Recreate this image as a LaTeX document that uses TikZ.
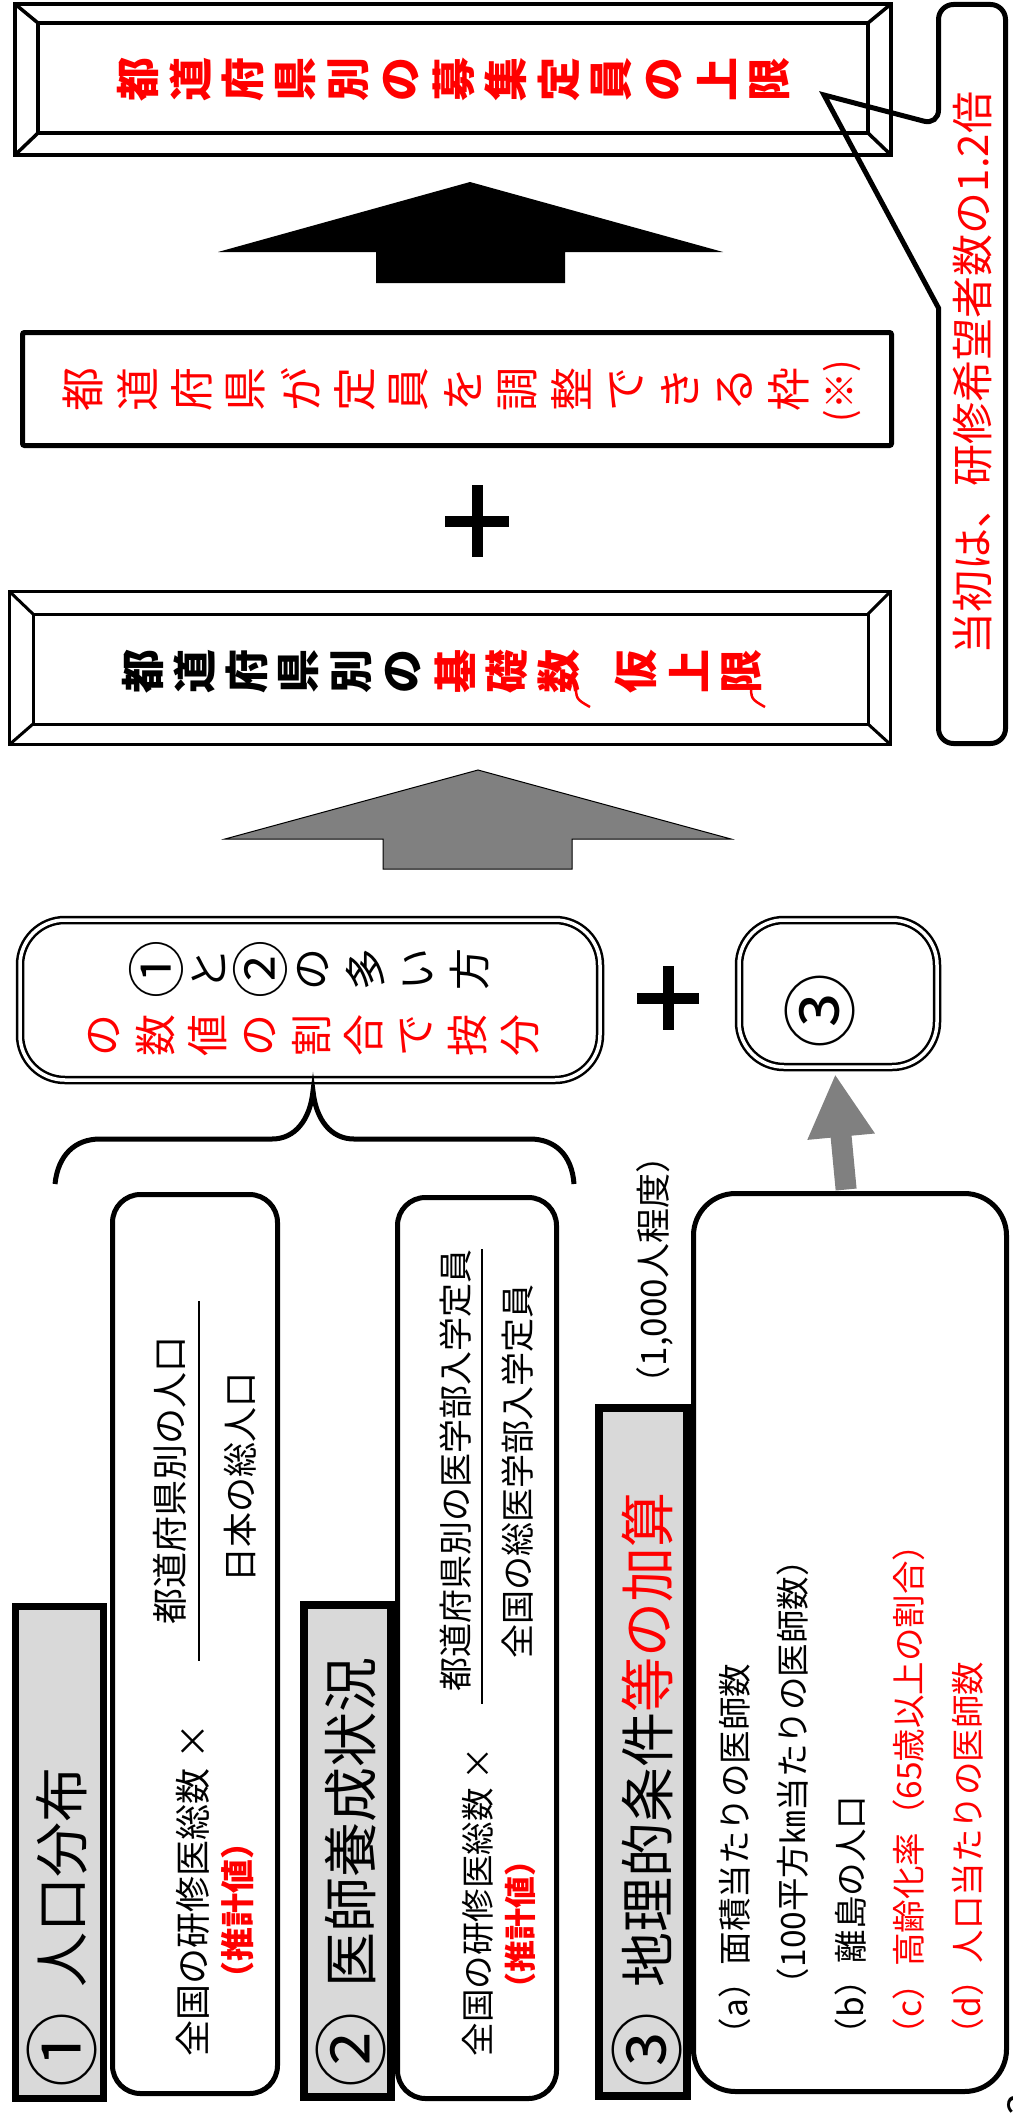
\documentclass[tikz,border=0pt]{standalone}
\usepackage{fontspec}
\setmainfont{Noto Sans CJK JP}
\usetikzlibrary{arrows.meta}

\definecolor{hdrgray}{HTML}{D9D9D9}
\definecolor{arrgray}{HTML}{808080}

\begin{document}
\begin{tikzpicture}[x=1pt, y=-1pt,
  every node/.style={inner sep=0pt, outer sep=0pt},
  ft/.style={font=\fontsize{#1}{#1}\selectfont},
  fb/.style={font=\fontsize{#1}{#1}\selectfont\bfseries},
  tate/.style={rotate=90, ft=44},
  yoko/.style={rotate=90},
  bevel/.style={draw, line width=3.5pt},
  frame/.style={draw, line width=5pt, rounded corners=2pt},
  hdr/.style={draw, line width=7.5pt, fill=hdrgray},
  card/.style={draw, line width=5pt, rounded corners=28pt},
  dbl/.style={draw, double, double distance=3.5pt, line width=2.5pt, rounded corners=45pt},
  plus/.style={line width=11pt},
  garrow/.style={line width=21pt, arrgray, -{Triangle[length=63pt, width=63pt]}}]

  \useasboundingbox (0,0) rectangle (1012,2114);

  % ===== Upper limit (bevel frame) =====
  \node[bevel, minimum width=876pt, minimum height=151pt] (cap) at (453,79.5) {};
  \node[bevel, minimum width=830pt, minimum height=110pt] (capi) at (453,78) {};
  \foreach \a in {north west,north east,south west,south east}
    \draw[bevel] (cap.\a) -- (capi.\a);
  \foreach \c [count=\i from 0] in {都,道,府,県,別,の,募,集,定,員,の,上,限}
    \node[tate, red, fb=44] (cap\i) at ({138+52.6*\i},80) {\c};

  % ===== Callout =====
  \node[yoko, red, ft=42] (note) at (973,373) {当初は、研修希望者数の1.2倍};
  \draw[line width=5pt, rounded corners=15pt] (938.5,308) -- (938.5,743.5) -- (1005.5,743.5)
    -- (1005.5,4.5) -- (938.5,4.5) -- (938.5,125) [sharp corners] -- (824,95) -- cycle;

  % ===== Black block arrow =====
  \fill (470,182) -- (723,252) -- (565,252) -- (565,283) -- (376,283) -- (376,252) -- (218,252) -- cycle;

  % ===== Adjustable frame =====
  \node[frame, minimum width=869pt, minimum height=113pt] (adj) at (457,389) {};
  \foreach \c [count=\i from 0] in {都,道,府,県,が,定,員,を,調,整,で,き,る,枠}
    \node[tate, red] (adj\i) at ({83+54.3*\i},389) {\c};
  \node[yoko, red, ft=37] (adjk) at (842,391) {(※)};

  % Plus signs
  \draw[plus] (477,485) -- (477,557) (445,521) -- (509,521);
  \draw[plus] (668,966) -- (668,1030) (637,998) -- (699,998);

  % ===== Base number (bevel frame) =====
  \node[bevel, line width=3pt, minimum width=881pt, minimum height=153pt] (base) at (450,668) {};
  \node[bevel, line width=3pt, minimum width=835pt, minimum height=110pt] (basei) at (450.5,669) {};
  \foreach \a in {north west,north east,south west,south east}
    \draw[bevel, line width=3pt] (base.\a) -- (basei.\a);
  \foreach \c [count=\i from 0] in {都,道,府,県,別,の}
    \node[tate, fb=44] (base\i) at ({143+52*\i},671) {\c};
  \foreach \c [count=\i from 6] in {基,礎,数}
    \node[tate, red, fb=44] (base\i) at ({143+52*\i},671) {\c};
  \foreach \c/\x [count=\i from 9] in {仮/636,上/689,限/742}
    \node[tate, red, fb=44] (base\i) at (\x,671) {\c};
  \draw[red, line width=2.5pt] (576,684) .. controls (576,699) .. (590,707);
  \draw[red, line width=2.5pt] (751,684) .. controls (751,699) .. (765,707);

  % ===== Gray block arrow =====
  \filldraw[fill=arrgray, line width=1pt] (478,770) -- (731,839) -- (572,839) -- (572,869)
    -- (383,869) -- (383,839) -- (225,839) -- cycle;

  % ===== Ratio box and (3) box =====
  \node[dbl, minimum width=580pt, minimum height=160pt] (ratio) at (310,1000) {};
  % circled digits are set larger
  \foreach \c/\s [count=\i from 0] in {①/58,と/42,②/58,の/42,多/42,い/42,方/42}
    \node[tate, ft=\s] (ra\i) at ({156+52.3*\i},969) {\c};
  \foreach \c [count=\i from 0] in {の,数,値,の,割,合,で,按,分}
    \node[tate, red, ft=42] (rb\i) at ({104+52*\i},1035) {\c};

  \node[dbl, minimum width=198pt, minimum height=147pt] (three) at (838,993.5) {};
  \node[tate, ft=75] (threet) at (820,1011) {③};

  % Brace over (1) and (2)
  \draw[line width=5pt] (55,1184) .. controls (58,1155) and (75,1139) .. (100,1139) -- (272,1139)
    .. controls (295,1139) and (310,1120) .. (313,1091)
    .. controls (316,1120) and (331,1139) .. (354,1139) -- (530,1139)
    .. controls (555,1139) and (572,1155) .. (574,1184);

  % ===== Section 1 =====
  \node[card, minimum width=165pt, minimum height=899pt] (pop) at (195,1644) {};
  \node[hdr, minimum width=88pt, minimum height=492pt] (poph) at (59.5,1852.5) {};
  \node[yoko, ft=75] (popc) at (61.5,2050) {①};
  \node[yoko, anchor=west, ft=55] (popt) at (61.5,1987) {人口分布};
  \node[yoko, anchor=west, ft=36] (popa) at (193,2056) {全国の研修医総数 ×};
  \node[yoko, red, fb=34] (popb) at (238,1910) {（推計値）};
  \node[yoko, ft=36] (popn) at (170,1480) {都道府県別の人口};
  \node[yoko, ft=35] (popd) at (240,1477) {日本の総人口};
  \draw[line width=2.5pt] (199,1301) -- (199,1661);

  % ===== Section 2 =====
  \node[card, minimum width=159pt, minimum height=901pt] (doc) at (477,1648) {};
  \node[hdr, minimum width=87pt, minimum height=492pt] (doch) at (347.5,1851) {};
  \node[yoko, ft=75] (docc) at (351,2050) {②};
  \node[yoko, anchor=west, ft=55] (doct) at (351,1987) {医師養成状況};
  \node[yoko, anchor=west, ft=33.5] (doca) at (478,2056) {全国の研修医総数 ×};
  \node[yoko, red, fb=32] (docb) at (520,1924) {（推計値）};
  \node[yoko, ft=34] (docn) at (456,1470) {都道府県別の医学部入学定員};
  \node[yoko, ft=34] (docd) at (518,1471) {全国の総医学部入学定員};
  \draw[line width=2.5pt] (482,1249) -- (482,1704);

  % ===== Section 3 =====
  \draw[garrow, shorten <=4pt, shorten >=7pt] ([xshift=-3.5pt]850,1193.5) -- ([xshift=-3.5pt]three.south);
  \node[card, rounded corners=42pt, minimum width=313pt, minimum height=898pt] (geo) at (850,1642.5) {};
  \node[hdr, minimum width=88pt, minimum height=688pt] (geoh) at (643,1752) {};
  \node[yoko, ft=75] (geoc3) at (647,2050) {③};
  \node[yoko, anchor=west, ft=55] (geot) at (647,1987) {地理的条件\textcolor{red}{等の加算}};
  \node[yoko, ft=35] (geon) at (655,1270) {（1,000人程度）};
  \node[yoko, anchor=west, ft=33.5] (geoa) at (735,2051) {（a）面積当たりの医師数};
  \node[yoko, anchor=west, ft=33.5] (geoa2) at (793,2001) {（100平方㎞当たりの医師数）};
  \node[yoko, anchor=west, ft=33.5] (geob) at (851,2051) {（b）離島の人口};
  \node[yoko, anchor=west, red, ft=33.5] (geoc) at (909,2051) {（c）高齢化率（65歳以上の割合）};
  \node[yoko, anchor=west, red, ft=33.5] (geod) at (968,2051) {（d）人口当たりの医師数};

  % page number, cut by the edge
  \node[yoko, ft=40] (pgno) at (1022,2104) {3};

\end{tikzpicture}
\end{document}
